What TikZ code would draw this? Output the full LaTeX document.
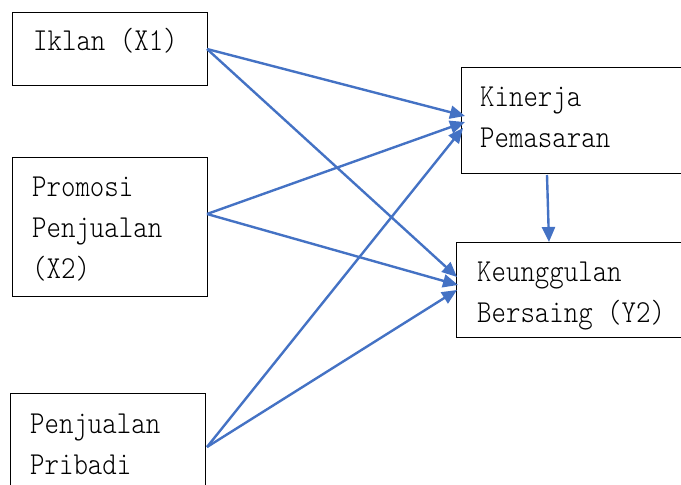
\documentclass[tikz,border=0pt]{standalone}
\usepackage{fontspec}
\setmainfont{Liberation Serif}
\newfontfamily\boxfont[Extension=.otf, FakeStretch=0.86]{lmmonolt10-regular}
\usetikzlibrary{arrows.meta}
\definecolor{arrblue}{HTML}{4472C4}
\tikzset{
  boxnode/.style={draw=black, line width=1.2pt, inner sep=0pt, anchor=north west},
  lbl/.style={inner sep=0pt, anchor=base west, align=left, font=\boxfont\fontsize{32}{41}\selectfont},
  conn/.style={draw=arrblue, line width=2.4pt, -{Triangle[length=15pt,width=13pt]}}
}
\begin{document}
\begin{tikzpicture}[x=1pt,y=-1pt]
\useasboundingbox (0,0) rectangle (681,485);
\clip (0,0) rectangle (681,485);
% boxes
\node[boxnode, minimum width=195pt, minimum height=73pt] (iklan) at (12,12) {};
\node[boxnode, minimum width=195pt, minimum height=139pt] (promosi) at (12,157) {};
\node[boxnode, minimum width=195pt, minimum height=120pt] (pribadi) at (10,393) {};
\node[boxnode, minimum width=260pt, minimum height=106pt] (kinerja) at (461,67) {};
\node[boxnode, minimum width=260pt, minimum height=95pt] (unggul) at (456,242) {};
% texts (anchored at the baseline of the last line)
\node[lbl] (iklanT) at (33,50) {Iklan (X1)};
\node[lbl] (promosiT) at (32,278) {Promosi\\Penjualan\\(X2)};
\node[lbl] (pribadiT) at (30,474) {Penjualan\\Pribadi};
\node[lbl] (kinerjaT) at (480,147) {Kinerja\\Pemasaran};
\node[lbl] (unggulT) at (477,322) {Keunggulan\\Bersaing (Y2)};
% connector points
\coordinate (s1) at (207,49);
\coordinate (s2) at (207,214);
\coordinate (s3) at (207,447);
\coordinate (k1) at (465,116);
\coordinate (k2) at (465,122);
\coordinate (k3) at (463,128);
\coordinate (u1) at (457,277);
\coordinate (u2) at (458,285);
\coordinate (u3) at (457,290);
\coordinate (kb) at (547,175);
\coordinate (ut) at (549,242);
\draw[conn] (s1) -- (k1);
\draw[conn] (s1) -- (u1);
\draw[conn] (s2) -- (k2);
\draw[conn] (s2) -- (u2);
\draw[conn] (s3) -- (k3);
\draw[conn] (s3) -- (u3);
\draw[conn] (kb) -- (ut);
\end{tikzpicture}
\end{document}
